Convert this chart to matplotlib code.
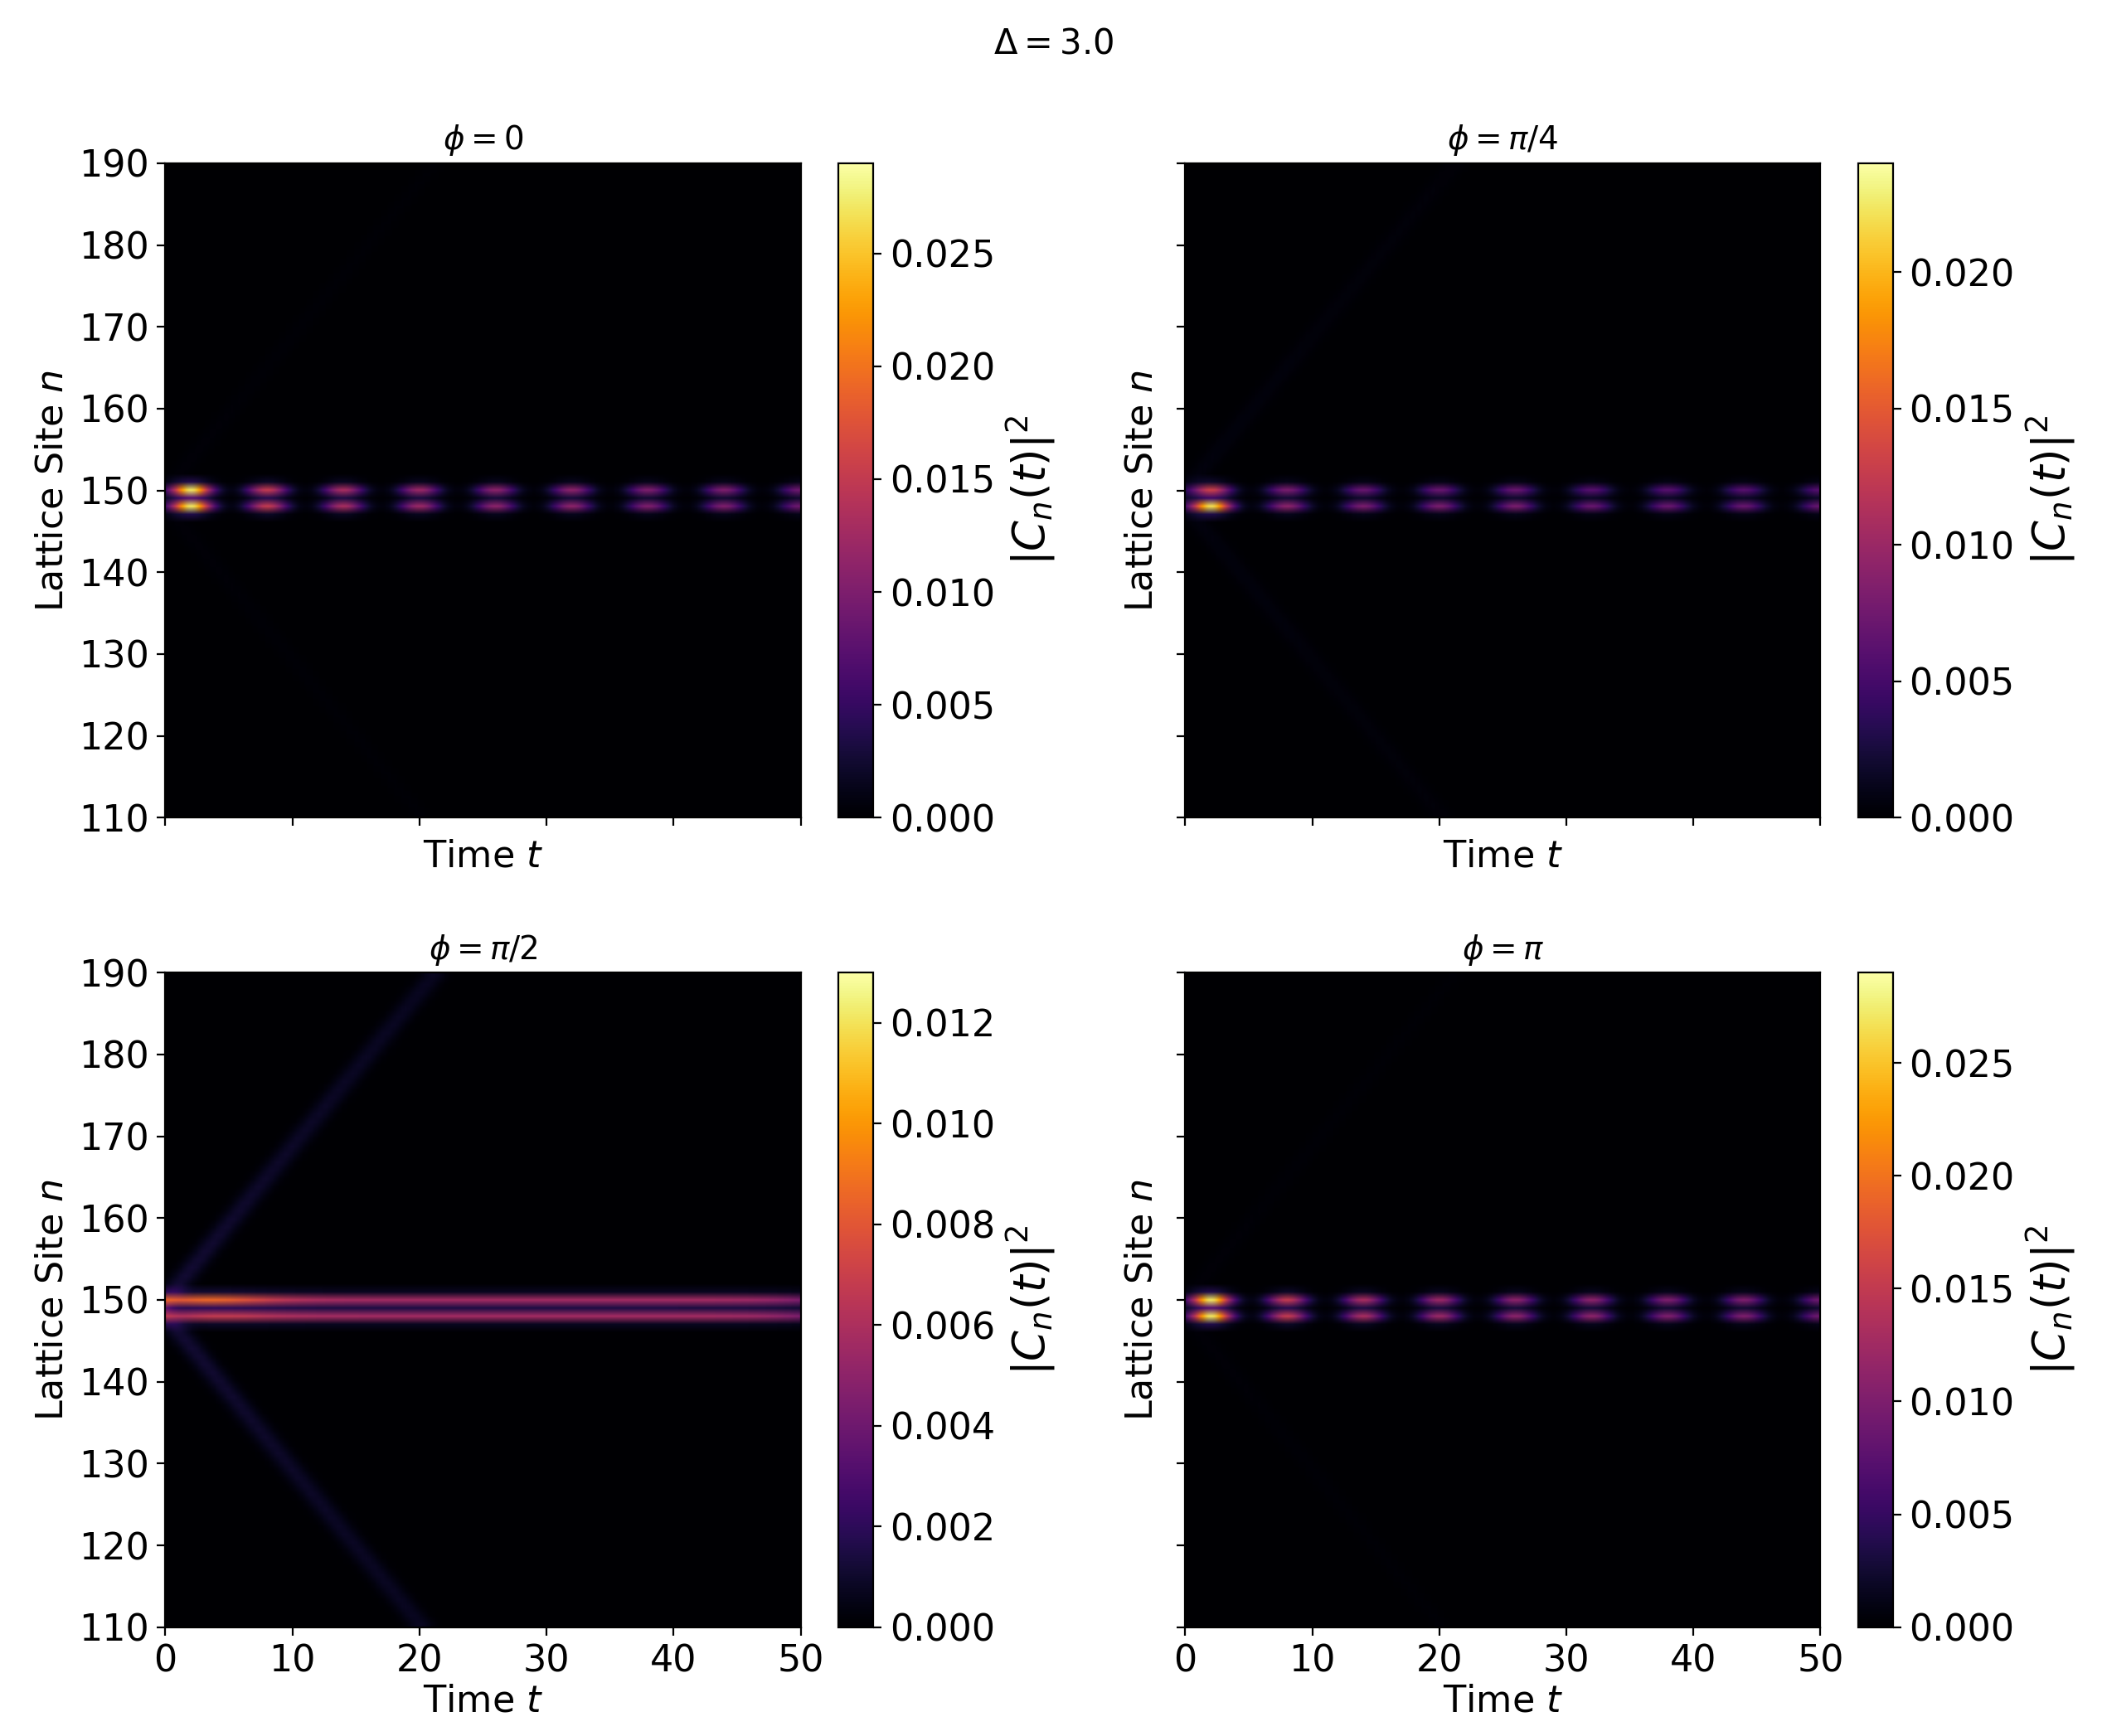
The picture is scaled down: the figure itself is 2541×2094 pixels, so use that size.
import numpy as np
import matplotlib
matplotlib.use("Agg")
import matplotlib.pyplot as plt

# values
titles = [r"$\phi = 0$", r"$\phi = \pi/4$", r"$\phi = \pi/2$", r"$\phi = \pi$"]
vmax = [0.029, 0.024, 0.013, 0.029]
cbar_ticks = [
    [0.000, 0.005, 0.010, 0.015, 0.020, 0.025],
    [0.000, 0.005, 0.010, 0.015, 0.020],
    [0.000, 0.002, 0.004, 0.006, 0.008, 0.010, 0.012],
    [0.000, 0.005, 0.010, 0.015, 0.020, 0.025],
]
band_rows = [148, 150]
# pulse centres in time and peak intensity per band (row 148, row 150)
pulse_times = [2, 8, 14, 20, 26, 32, 38, 44, 50]
pulse_148 = [
    [0.027, 0.015, 0.013, 0.012, 0.011, 0.011, 0.010, 0.010, 0.009],
    [0.022, 0.009, 0.008, 0.008, 0.008, 0.007, 0.007, 0.007, 0.007],
    [0.005, 0.0032, 0.0032, 0.0032, 0.0032, 0.0032, 0.0032, 0.0032, 0.0032],
    [0.027, 0.015, 0.013, 0.012, 0.011, 0.011, 0.010, 0.010, 0.009],
]
pulse_150 = [
    [0.027, 0.015, 0.013, 0.012, 0.011, 0.011, 0.010, 0.010, 0.009],
    [0.013, 0.008, 0.007, 0.007, 0.007, 0.006, 0.006, 0.006, 0.006],
    [0.007, 0.0032, 0.0032, 0.0032, 0.0032, 0.0032, 0.0032, 0.0032, 0.0032],
    [0.027, 0.015, 0.013, 0.012, 0.011, 0.011, 0.010, 0.010, 0.009],
]
pulse_width = [1.6, 1.6, 6.0, 1.6]      # continuous bands for phi = pi/2
cone_speed = [1.9, 1.9, 1.9, 1.9]        # sites per unit time
cone_amp = [0.0004, 0.0006, 0.0012, 0.0004]

t = np.linspace(0, 50, 400)
n = np.arange(110, 191)
T, N = np.meshgrid(t, n)


def build(i):
    img = np.zeros_like(T)
    for tc, a48, a50 in zip(pulse_times, pulse_148[i], pulse_150[i]):
        tw = np.exp(-((T - tc) / pulse_width[i]) ** 2)
        img += a48 * tw * np.exp(-((N - band_rows[0]) / 0.7) ** 2)
        img += a50 * tw * np.exp(-((N - band_rows[1]) / 0.7) ** 2)
    for sign, row in ((1, band_rows[1]), (-1, band_rows[0])):
        front = row + sign * cone_speed[i] * T
        img += cone_amp[i] * np.exp(-((N - front) / 2.0) ** 2) / (1 + 0.03 * T)
    return img


plt.rcParams["font.size"] = 16
fig = plt.figure(figsize=(12.705, 10.47), dpi=200)
fig.suptitle(r"$\Delta = 3.0$", y=0.985, fontsize=15)

ax_pos = [(0.0785, 0.529), (0.5625, 0.529), (0.0785, 0.0627), (0.5625, 0.0627)]
w, h = 0.3015, 0.377
for i, (x0, y0) in enumerate(ax_pos):
    ax = fig.add_axes([x0, y0, w, h])
    im = ax.imshow(build(i), origin="lower", aspect="auto", cmap="inferno",
                   extent=[0, 50, 110, 190], vmin=0, vmax=vmax[i],
                   interpolation="bilinear")
    ax.set_title(titles[i], fontsize=14)
    ax.set_xticks([0, 10, 20, 30, 40, 50])
    ax.set_yticks(range(110, 191, 10))
    ax.set_xlabel(r"Time $t$", labelpad=2)
    if i in (0, 1):
        ax.set_xticklabels([])
    if i in (1, 3):
        ax.set_yticklabels([])
    ax.set_ylabel(r"Lattice Site $n$")
    cax = fig.add_axes([x0 + 0.3195, y0, 0.0165, h])
    cb = fig.colorbar(im, cax=cax, ticks=cbar_ticks[i])
    cb.ax.set_yticklabels([f"{v:.3f}" for v in cbar_ticks[i]])
    cb.set_label(r"$|C_n(t)|^2$", fontsize=19)

fig.savefig("out.png")
